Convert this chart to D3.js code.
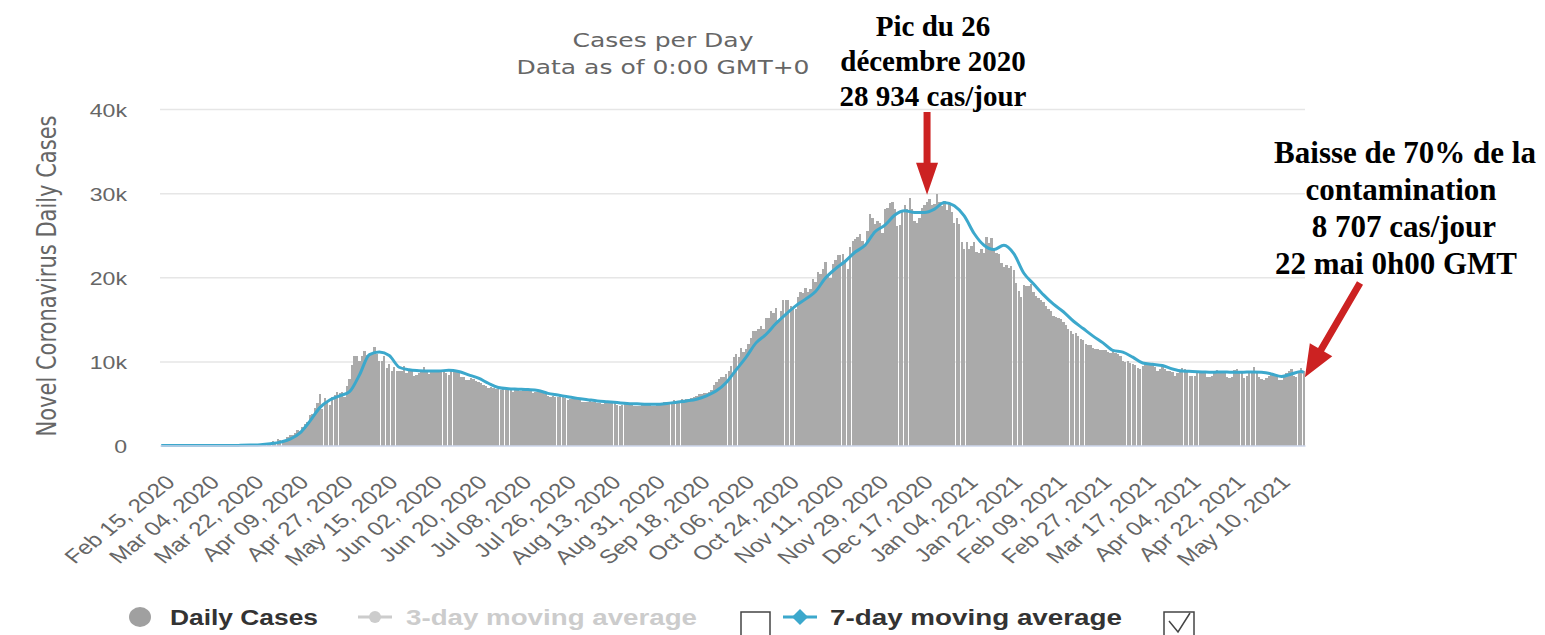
<!DOCTYPE html>
<html>
<head>
<meta charset="utf-8">
<script src="https://cdnjs.cloudflare.com/ajax/libs/d3/7.8.5/d3.min.js"></script>
<style>
  body { margin: 0; background: #fff; }
  svg { display: block; }
</style>
</head>
<body>
<div id="chart"></div>
<script>
// daily new cases (thousands), one row per month, 15 Feb 2020 -> 21 May 2021
var startDate = Date.UTC(2020, 1, 15);
var dailyCases = [
  0,0,0,0,0,0,0,0,0,0,0,0,0,0,0,
  0,0,0,0,0,0,0,0,0,0,0,0,0,0,0,0,0,0,0.1,0.1,0.1,0.1,0.1,0.1,0.2,0.2,0.2,0.2,0.3,0.3,0.5,
  0.4,0.8,0.6,0.6,0.7,1.0,1.2,1.2,1.5,1.8,1.7,2.2,2.6,2.8,3.6,3.8,4.4,5.0,6.1,4.3,5.6,5.2,4.8,5.8,6.0,6.4,6.2,6.4,5.8,7.1,
  7.9,9.6,10.6,10.6,10.1,10.6,11.2,10.7,10.8,11.0,11.7,10.9,10.0,10.0,10.6,9.2,9.7,8.9,9.3,8.8,8.8,8.9,9.4,8.6,8.9,8.9,8.3,8.4,8.6,9.0,9.3,
  9.0,8.5,8.8,8.7,8.7,8.9,9.0,9.0,8.6,8.4,8.8,9.0,8.7,8.8,8.2,8.2,7.8,7.8,8.0,7.9,7.7,7.6,7.4,7.2,7.1,6.8,6.9,6.8,6.7,6.7,
  6.6,6.8,6.6,6.7,6.6,6.4,6.6,6.6,6.5,6.6,6.6,6.6,6.5,6.2,6.4,6.4,6.4,6.2,6.1,5.9,5.8,5.9,5.8,5.8,5.9,5.8,5.6,5.4,5.5,5.5,5.5,
  5.5,5.4,5.2,5.2,5.2,5.3,5.2,5.2,5.1,5.1,4.9,5.1,5.1,5.1,5.1,5.0,4.8,4.7,4.8,4.9,4.9,4.9,4.9,4.7,4.7,4.7,4.8,4.8,5.0,4.9,4.7,
  4.7,5.0,5.0,5.1,5.2,5.2,5.1,5.1,5.4,5.2,5.3,5.5,5.4,5.5,5.5,5.7,5.8,5.9,6.1,6.1,6.2,6.2,6.4,6.6,7.2,7.5,7.9,8.1,8.2,8.5,
  8.9,9.4,10.5,10.9,10.5,11.6,11.1,11.5,12.1,12.8,13.6,13.6,13.9,14.2,13.8,15.2,15.1,16.0,15.7,16.3,14.9,16.0,17.3,17.3,17.3,16.6,16.2,16.2,17.7,18.3,18.1,
  18.7,18.3,18.6,19.8,19.4,20.6,20.4,21.0,21.8,20.0,19.9,21.6,22.0,22.7,22.6,22.8,21.8,21.0,23.6,24.3,24.6,24.8,25.2,24.3,23.7,25.5,27.5,27.1,26.3,26.7,
  26.4,25.3,28.1,28.2,28.8,29.0,28.1,26.1,26.2,27.9,28.6,28.1,29.4,28.1,26.7,26.4,27.0,28.2,28.6,28.9,29.3,28.6,28.7,29.9,29.0,28.5,29.1,28.0,28.7,27.7,26.5,
  27.0,26.3,24.2,23.4,24.2,23.3,23.7,24.2,23.0,22.9,23.3,22.9,24.8,24.1,24.7,23.5,22.9,22.8,21.7,21.2,21.5,21.1,21.3,20.9,19.3,18.4,17.7,19.1,19.0,19.0,19.2,
  18.3,17.8,17.5,17.3,17.0,16.6,16.2,16.0,15.4,15.3,15.2,15.0,14.7,14.3,13.8,13.6,13.3,13.4,13.0,12.7,12.6,12.1,11.9,12.0,11.6,11.5,11.5,11.3,
  11.4,11.3,11.1,11.0,11.4,11.0,10.9,10.6,10.1,9.9,10.0,9.8,9.7,9.6,9.2,9.1,9.4,9.9,9.7,9.6,9.6,9.3,8.8,9.1,9.3,9.1,8.9,8.8,8.7,8.3,8.6,
  8.8,9.2,9.1,8.7,8.3,8.3,8.3,8.8,8.9,8.6,8.6,8.2,8.2,8.3,8.9,9.0,8.6,8.8,8.7,8.1,8.0,8.2,9.0,9.1,8.8,8.6,8.0,8.3,8.6,8.8,
  9.3,8.7,8.2,7.9,7.8,8.0,8.3,8.4,8.5,8.4,7.8,7.8,8.2,8.6,8.8,9.1,8.3,8.1,8.6,9.2,8.9
];

// 7-day moving average (thousands), read every 4th day, last value = last day
var avgStep = 4;
var avg7 = [
  0,0,0,0,0,0,0,0,0.02,0.05,
  0.1,0.22,0.4,0.75,1.5,2.9,4.5,5.4,5.9,6.4,
  8.4,10.8,11.1,10.7,9.3,9.0,8.9,8.85,8.85,8.95,
  8.8,8.4,8.0,7.4,6.9,6.75,6.7,6.65,6.55,6.2,
  6.0,5.8,5.6,5.45,5.3,5.2,5.1,5.0,4.95,4.9,
  4.9,5.0,5.15,5.3,5.5,5.9,6.5,7.5,9.0,10.5,
  12.2,13.2,14.5,15.6,16.6,17.4,18.3,19.9,21.0,21.9,
  23.0,23.8,25.4,26.2,27.4,27.9,27.7,27.7,28.1,28.9,
  28.5,27.3,25.2,23.8,23.3,23.8,22.8,20.5,19.2,17.9,
  16.8,15.9,14.8,13.9,13.0,12.2,11.3,11.1,10.5,9.8,
  9.65,9.5,9.1,8.85,8.8,8.75,8.7,8.75,8.7,8.7,
  8.75,8.7,8.5,8.2,8.5,8.8,8.7
];

var yTicks = [0, 10, 20, 30, 40];
var tickEvery = 18;
var titleLines = ["Cases per Day", "Data as of 0:00 GMT+0"];
var yTitle = "Novel Coronavirus Daily Cases";
var legendNames = ["Daily Cases", "3-day moving average", "7-day moving average"];
var peakNote = ["Pic du 26", "décembre 2020", "28 934 cas/jour"];
var dropNote = ["Baisse de 70% de la", "contamination", "8 707 cas/jour", "22 mai 0h00 GMT"];

var SX = 1.25; // the screenshot is stretched sideways
var barColor = "#aaaaaa", lineColor = "#3ca8cc", red = "#cc2222";

var days = d3.utcDay.range(new Date(startDate), d3.utcDay.offset(new Date(startDate), dailyCases.length));
console.log(days.length, dailyCases.length);

var svg = d3.select("#chart").append("svg")
  .attr("width", 1545)
  .attr("height", 635)
  .style("font-family", "'DejaVu Sans', Verdana, sans-serif");

var x = d3.scaleBand()
  .domain(days)
  .range([160, 1305])
  .paddingInner(0.06)
  .paddingOuter(0.03);

var y = d3.scaleLinear()
  .domain([0, 40])
  .range([445.5, 109]);

// grid + y labels
var yAxis = svg.append("g")
  .attr("transform", "translate(160,0)")
  .call(d3.axisLeft(y).tickValues(yTicks).tickSize(-1145)
    .tickFormat(d => d ? d + "k" : "0"));
yAxis.select(".domain").remove();
yAxis.selectAll("line")
  .attr("stroke", "#e6e6e6")
  .attr("stroke-width", 1.5)
  .attr("display", d => d === 0 ? "none" : null);
yAxis.selectAll("text")
  .attr("x", null).attr("dy", null)
  .attr("transform", `translate(-33,7) scale(${SX},1)`)
  .attr("fill", "#666")
  .style("font-size", "18.5px");

// bars
svg.append("g")
  .attr("shape-rendering", "crispEdges")
  .selectAll("rect")
  .data(dailyCases)
  .join("rect")
  .attr("x", (d, i) => x(days[i]))
  .attr("y", d => y(d))
  .attr("width", x.bandwidth())
  .attr("height", d => y(0) - y(d))
  .attr("fill", barColor);

// 7-day average line
var avgIdx = d3.range(0, days.length, avgStep);
if (avgIdx[avgIdx.length - 1] !== days.length - 1) avgIdx.push(days.length - 1);
var avgPts = avgIdx.map((di, k) => ({date: days[di], v: avg7[k]}));

svg.append("path")
  .datum(avgPts)
  .attr("fill", "none")
  .attr("stroke", lineColor)
  .attr("stroke-width", 3)
  .attr("stroke-linejoin", "round")
  .attr("d", d3.line()
    .x(p => x(p.date) + x.bandwidth() / 2)
    .y(p => y(p.v))
    .curve(d3.curveMonotoneX));

// x axis
var xAxis = svg.append("g")
  .attr("transform", "translate(0,445.5)")
  .call(d3.axisBottom(x)
    .tickValues(days.filter((d, i) => i % tickEvery === 0))
    .tickSize(0).tickSizeOuter(0)
    .tickFormat(d3.utcFormat("%b %d, %Y")));
xAxis.select(".domain").attr("stroke", "#ccd6eb").attr("stroke-width", 1.5);
xAxis.selectAll("text")
  .attr("y", null).attr("dy", null)
  .attr("transform", `translate(15,38) scale(${SX},1) rotate(-45)`)
  .style("text-anchor", "end")
  .style("font-size", "19.5px")
  .attr("fill", "#666");

// titles
svg.append("g").selectAll("text")
  .data(titleLines)
  .join("text")
  .attr("transform", (d, i) => `translate(663,${47 + i * 27}) scale(${SX},1)`)
  .attr("text-anchor", "middle")
  .attr("fill", "#666")
  .style("font-size", "20px")
  .text(d => d);

svg.append("text")
  .attr("transform", `translate(56,276) scale(${SX},1) rotate(-90)`)
  .attr("text-anchor", "middle")
  .attr("fill", "#666")
  .style("font-size", "21px")
  .text(yTitle);

// legend
var leg = svg.append("g").style("font-family", "'Liberation Sans Narrow', 'Liberation Sans', Arial, sans-serif")
  .style("font-weight", "bold").style("font-size", "22px");
leg.append("ellipse").attr("cx", 140).attr("cy", 617).attr("rx", 11).attr("ry", 10).attr("fill", "#a0a0a0");
leg.append("line").attr("x1", 358).attr("x2", 392).attr("y1", 617).attr("y2", 617)
  .attr("stroke", "#cccccc").attr("stroke-width", 3);
leg.append("circle").attr("cx", 375).attr("cy", 617).attr("r", 6).attr("fill", "#cccccc");
leg.append("line").attr("x1", 783).attr("x2", 817).attr("y1", 617).attr("y2", 617)
  .attr("stroke", lineColor).attr("stroke-width", 3);
leg.append("path").attr("d", "M800,609 L808,617 L800,625 L792,617 Z").attr("fill", lineColor);

var legText = [
  {x: 170, w: 148, c: "#333333"},
  {x: 406, w: 291, c: "#cccccc"},
  {x: 830, w: 292, c: "#333333"}
];
leg.selectAll("text.leg")
  .data(legendNames)
  .join("text")
  .attr("class", "leg")
  .attr("x", (d, i) => legText[i].x)
  .attr("y", 625)
  .attr("textLength", (d, i) => legText[i].w)
  .attr("lengthAdjust", "spacingAndGlyphs")
  .attr("fill", (d, i) => legText[i].c)
  .text(d => d);

leg.append("rect").attr("x", 741).attr("y", 612).attr("width", 29).attr("height", 26)
  .attr("fill", "#fff").attr("stroke", "#444").attr("stroke-width", 1.5);
leg.append("rect").attr("x", 1164).attr("y", 612).attr("width", 30).attr("height", 26)
  .attr("fill", "#fff").attr("stroke", "#444").attr("stroke-width", 1.5);
leg.append("path").attr("d", "M1169,621 L1178,632 L1190,613")
  .attr("fill", "none").attr("stroke", "#444").attr("stroke-width", 1.5);

// annotations
var ann = svg.append("g")
  .style("font-family", "'Liberation Serif', 'Times New Roman', serif")
  .style("font-weight", "bold")
  .attr("fill", "#000");

ann.selectAll("text.peak")
  .data(peakNote)
  .join("text")
  .attr("class", "peak")
  .attr("x", 933)
  .attr("y", (d, i) => 36 + i * 35)
  .attr("text-anchor", "middle")
  .style("font-size", "29px")
  .text(d => d);

var dropX = [1405, 1401, 1404, 1396];
ann.selectAll("text.drop")
  .data(dropNote)
  .join("text")
  .attr("class", "drop")
  .attr("x", (d, i) => dropX[i])
  .attr("y", (d, i) => 163 + i * 37)
  .attr("text-anchor", "middle")
  .style("font-size", "31px")
  .text(d => d);

function arrow(x1, y1, x2, y2, w, hl, hw) {
  var dx = x2 - x1, dy = y2 - y1, len = Math.hypot(dx, dy);
  var ux = dx / len, uy = dy / len, nx = -uy, ny = ux;
  var bx = x2 - ux * hl, by = y2 - uy * hl;
  var pts = [
    [x1 + nx * w / 2, y1 + ny * w / 2], [bx + nx * w / 2, by + ny * w / 2],
    [bx + nx * hw, by + ny * hw], [x2, y2],
    [bx - nx * hw, by - ny * hw], [bx - nx * w / 2, by - ny * w / 2],
    [x1 - nx * w / 2, y1 - ny * w / 2]
  ];
  svg.append("path").attr("d", "M" + pts.join("L") + "Z").attr("fill", red);
}
// peak arrow points down on the late-December top, drop arrow on the last day
var peakX = x(days[309]) + x.bandwidth() / 2;
arrow(peakX, 112, peakX, y(29.8), 7, 32, 11);
arrow(1360, 283, x(days[days.length - 1]) + x.bandwidth(), y(8.1), 7, 32, 13);
</script>
</body>
</html>
